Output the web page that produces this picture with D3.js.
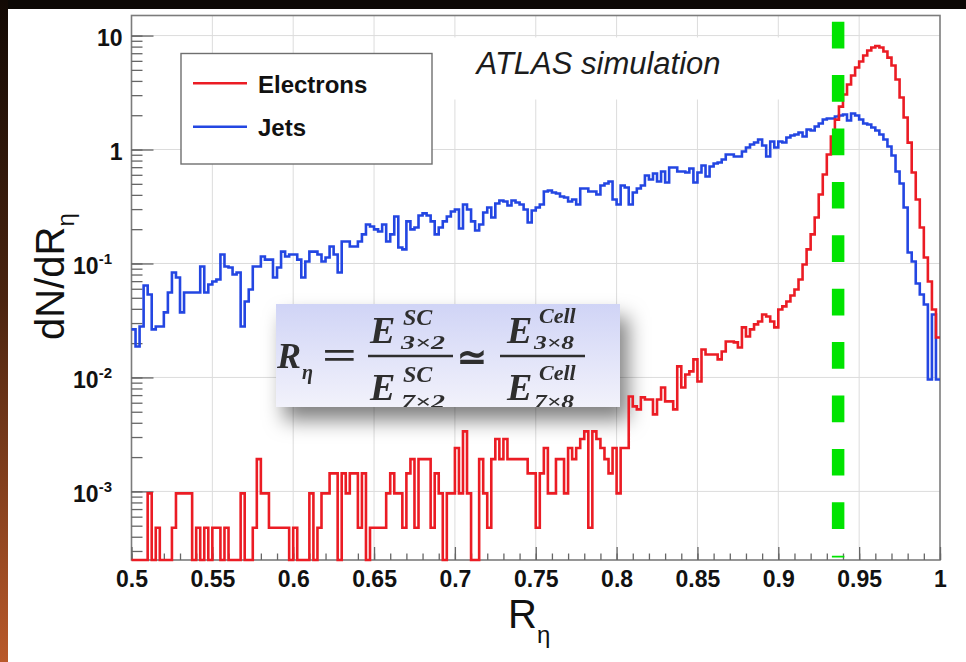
<!DOCTYPE html>
<html>
<head>
<meta charset="utf-8">
<title>R_eta: electrons vs jets</title>
<script src="https://cdn.jsdelivr.net/npm/d3@7/dist/d3.min.js"></script>
<style>
  html, body { margin: 0; padding: 0; background: #0c0805; overflow: hidden; }
  svg { display: block; }
</style>
</head>
<body>
<svg id="chart" width="966" height="662"></svg>
<script>
// ---------- data ----------
// Histogram binning on R_eta
const binStart = 0.5;
const binWidth = 0.0025;

// dN/dR_eta per bin (200 bins from 0.5 to 1.0)
const electrons = [
  0, 0, 0, 0, 0.00096, 0, 0.00048, 0, 0, 0,
  0.00048, 0.00096, 0.00096, 0.00096, 0.00096, 0, 0.00048, 0, 0.00048, 0,
  0.00048, 0.00048, 0, 0.00048, 0, 0, 0, 0.00096, 0, 0,
  0.00048, 0.00192, 0.00096, 0.00096, 0.00048, 0.00048, 0.00048, 0.00048, 0.00048, 0,
  0.00048, 0, 0, 0, 0.00096, 0, 0.00048, 0.00096, 0.00096, 0.00144,
  0.00144, 0, 0.00144, 0.00096, 0.00144, 0.00144, 0.00048, 0.00144, 0, 0.00048,
  0.00048, 0.00048, 0.00048, 0.00096, 0.00144, 0.00096, 0.00096, 0.00048, 0.00144, 0.00192,
  0.00048, 0.00192, 0.00192, 0.00192, 0.00048, 0.00144, 0.00096, 0, 0.00096, 0.00096,
  0.0024, 0.00096, 0.00336, 0.00096, 0, 0, 0.00192, 0.00096, 0.00048, 0.00192,
  0.00288, 0.00192, 0.00288, 0.00192, 0.00192, 0.00192, 0.00192, 0.00192, 0.00144, 0.00144,
  0.00048, 0.00144, 0.0024, 0.00096, 0.00096, 0.00192, 0.00192, 0.00096, 0.0024, 0.00192,
  0.0024, 0.00288, 0.00336, 0.00048, 0.00336, 0.00288, 0.0024, 0.00192, 0.00144, 0.0024,
  0.00096, 0.0024, 0.0024, 0.00681, 0.00557, 0.00524, 0.00668, 0.00641, 0.00641, 0.00474,
  0.00641, 0.00817, 0.00616, 0.00616, 0.00524, 0.0125, 0.00817, 0.0106, 0.0113, 0.0144,
  0.00922, 0.0176, 0.0159, 0.0159, 0.0159, 0.0144, 0.0169, 0.0207, 0.0207, 0.0203,
  0.0183, 0.0275, 0.0229, 0.0264, 0.0292, 0.031, 0.0357, 0.0343, 0.031, 0.0275,
  0.0395, 0.042, 0.0464, 0.0524, 0.0591, 0.0724, 0.098, 0.133, 0.18, 0.253,
  0.403, 0.603, 0.904, 1.30, 1.83, 2.38, 3.04, 3.72, 4.46, 5.24,
  5.92, 6.68, 7.39, 7.85, 8.09, 7.85, 7.24, 6.41, 5.46, 4.11,
  2.86, 1.91, 1.15, 0.629, 0.364, 0.207, 0.113, 0.0695, 0.0395, 0.0224
];

const jets = [
  0.0264, 0.0187, 0.028, 0.0641, 0.0535, 0.0264, 0.028, 0.028, 0.0372, 0.0557,
  0.0834, 0.0754, 0.0372, 0.0557, 0.0557, 0.0557, 0.0557, 0.0941, 0.0557, 0.0654,
  0.0695, 0.0724, 0.120, 0.0941, 0.0922, 0.0801, 0.0834, 0.028, 0.0464, 0.0591,
  0.0941, 0.0941, 0.115, 0.108, 0.108, 0.0754, 0.0922, 0.127, 0.115, 0.120,
  0.120, 0.108, 0.0754, 0.104, 0.127, 0.127, 0.120, 0.104, 0.113, 0.141,
  0.120, 0.0834, 0.156, 0.156, 0.141, 0.141, 0.156, 0.180, 0.220, 0.211,
  0.199, 0.191, 0.220, 0.156, 0.180, 0.258, 0.138, 0.133, 0.234, 0.199,
  0.207, 0.264, 0.275, 0.264, 0.234, 0.180, 0.207, 0.234, 0.258, 0.286,
  0.298, 0.203, 0.329, 0.298, 0.234, 0.195, 0.220, 0.280, 0.310, 0.253,
  0.336, 0.357, 0.350, 0.323, 0.357, 0.343, 0.329, 0.298, 0.229, 0.292,
  0.310, 0.329, 0.428, 0.437, 0.420, 0.411, 0.387, 0.379, 0.350, 0.364,
  0.329, 0.455, 0.455, 0.428, 0.428, 0.403, 0.483, 0.503, 0.524, 0.364,
  0.329, 0.483, 0.464, 0.329, 0.420, 0.455, 0.483, 0.591, 0.546, 0.616,
  0.524, 0.641, 0.514, 0.695, 0.695, 0.641, 0.641, 0.629, 0.681, 0.514,
  0.629, 0.724, 0.580, 0.709, 0.754, 0.769, 0.817, 0.904, 0.904, 0.868,
  0.868, 0.960, 1.041, 1.106, 1.152, 1.224, 1.084, 0.868, 1.175, 1.041,
  1.175, 1.152, 1.274, 1.327, 1.354, 1.410, 1.300, 1.498, 1.468, 1.591,
  1.691, 1.833, 1.870, 1.870, 1.947, 1.987, 2.028, 1.796, 2.069, 1.987,
  1.833, 1.691, 1.657, 1.560, 1.468, 1.354, 1.224, 1.062, 0.886, 0.641,
  0.503, 0.310, 0.125, 0.104, 0.0668, 0.0535, 0.0437, 0.0096, 0.0357, 0.0096
];

const xDomain = [0.5, 1];
const yDomain = [2.5e-4, 15];
const xTickValues = [0.5, 0.55, 0.6, 0.65, 0.7, 0.75, 0.8, 0.85, 0.9, 0.95, 1];
const xTickLabels = ["0.5", "0.55", "0.6", "0.65", "0.7", "0.75", "0.8", "0.85", "0.9", "0.95", "1"];
const yTickValues = [0.001, 0.01, 0.1, 1, 10];
const yTickBase = ["10", "10", "10", "1", "10"];
const yTickExp = ["-3", "-2", "-1", "", ""];
const legendLabels = ["Electrons", "Jets"];
const cutValue = 0.937;

// ---------- layout ----------
const W = 966, H = 662;
const frame = { left: 131.5, right: 940, top: 15.5, bottom: 560 };
const colors = {
  electrons: "#eb1c24",
  jets: "#2346e2",
  cut: "#00e400",
  grid: "#dcdcdc",
  frame: "#7c7c7c",
  tick: "#666"
};
const sans = "'Liberation Sans', Arial, Helvetica, sans-serif";
const serif = "'Liberation Serif', 'Times New Roman', Times, serif";

const svg = d3.select("#chart");
const defs = svg.append("defs");

// page backdrop
const edge = defs.append("linearGradient").attr("id", "edgeGrad")
  .attr("x1", 0).attr("y1", 0).attr("x2", 0).attr("y2", 1);
edge.append("stop").attr("offset", "0%").attr("stop-color", "#120904");
edge.append("stop").attr("offset", "45%").attr("stop-color", "#4a2410");
edge.append("stop").attr("offset", "100%").attr("stop-color", "#b9592a");

svg.append("rect").attr("width", W).attr("height", H).attr("fill", "#0c0805");
svg.append("rect").attr("x", 0).attr("y", 0).attr("width", 8).attr("height", H).attr("fill", "url(#edgeGrad)");
svg.append("rect").attr("x", 8).attr("y", 9).attr("width", W - 8).attr("height", H - 9).attr("fill", "#ffffff");

// scales
const x = d3.scaleLinear().domain(xDomain).range([frame.left, frame.right]);
const y = d3.scaleLog().domain(yDomain).range([frame.bottom, frame.top]);

// grid
const grid = svg.append("g").attr("stroke", colors.grid).attr("stroke-width", 1);
grid.selectAll("line.gx")
  .data(xTickValues.filter(v => v > xDomain[0] && v < xDomain[1]))
  .join("line").attr("class", "gx")
  .attr("x1", d => x(d)).attr("x2", d => x(d))
  .attr("y1", frame.top).attr("y2", frame.bottom);
grid.selectAll("line.gy")
  .data(yTickValues)
  .join("line").attr("class", "gy")
  .attr("x1", frame.left).attr("x2", frame.right)
  .attr("y1", d => y(d)).attr("y2", d => y(d));

// white pad behind the simulation label
svg.append("rect").attr("x", 440).attr("y", 37.5).attr("width", 365).attr("height", 62).attr("fill", "#fff");

// ---------- formula panel ----------
const shadow = defs.append("filter").attr("id", "panelShadow")
  .attr("x", "-20%").attr("y", "-30%").attr("width", "150%").attr("height", "200%");
shadow.append("feDropShadow").attr("dx", 8).attr("dy", 13).attr("stdDeviation", 10)
  .attr("flood-color", "#000").attr("flood-opacity", 0.5);

const panelGrad = defs.append("linearGradient").attr("id", "panelGrad")
  .attr("x1", 0).attr("y1", 0).attr("x2", 0).attr("y2", 1);
panelGrad.append("stop").attr("offset", "0%").attr("stop-color", "#d0d4f6");
panelGrad.append("stop").attr("offset", "100%").attr("stop-color", "#f2f2fb");

const soft = defs.append("filter").attr("id", "softText");
soft.append("feGaussianBlur").attr("stdDeviation", 0.6);

const panel = { x: 276, y: 304, w: 344, h: 103 };
defs.append("clipPath").attr("id", "panelClip").append("rect")
  .attr("x", panel.x).attr("y", panel.y).attr("width", panel.w).attr("height", panel.h);

svg.append("rect")
  .attr("x", panel.x).attr("y", panel.y).attr("width", panel.w).attr("height", panel.h)
  .attr("fill", "url(#panelGrad)").attr("filter", "url(#panelShadow)");

const fg = svg.append("g").attr("clip-path", "url(#panelClip)")
  .append("g").attr("filter", "url(#softText)")
  .attr("fill", "#2e2e2e").attr("font-family", serif).attr("font-weight", "bold");

function ftext(str, px, py, size, opts = {}) {
  const t = fg.append("text").attr("x", px).attr("y", py)
    .attr("font-size", size).attr("font-style", opts.upright ? "normal" : "italic").text(str);
  if (opts.len) t.attr("textLength", opts.len).attr("lengthAdjust", "spacingAndGlyphs");
  return t;
}
// R_eta =
ftext("R", 277, 368, 36);
ftext("η", 302, 379, 20);
ftext("=", 322, 369, 40, { upright: true, len: 35 });
// first ratio (super-cells)
ftext("E", 370, 343, 38);
ftext("SC", 403, 325, 24);
ftext("3×2", 401, 349, 18, { len: 44 });
fg.append("line").attr("x1", 368).attr("x2", 453).attr("y1", 356).attr("y2", 356)
  .attr("stroke", "#2e2e2e").attr("stroke-width", 2.4);
ftext("E", 370, 400, 38);
ftext("SC", 403, 382, 24);
ftext("7×2", 401, 408, 18, { len: 44 });
// approximately equal
ftext("≃", 457, 370, 38, { upright: true, len: 30 });
// second ratio (cells)
ftext("E", 507, 343, 38);
ftext("Cell", 539, 323, 22);
ftext("3×8", 534, 349, 18, { len: 40 });
fg.append("line").attr("x1", 500).attr("x2", 585).attr("y1", 356).attr("y2", 356)
  .attr("stroke", "#2e2e2e").attr("stroke-width", 2.4);
ftext("E", 507, 400, 38);
ftext("Cell", 539, 380, 22);
ftext("7×8", 534, 408, 18, { len: 40 });

// ---------- legend ----------
const legend = svg.append("g");
legend.append("rect").attr("x", 181).attr("y", 53.5).attr("width", 251).attr("height", 110.5)
  .attr("fill", "#fff").attr("stroke", "#6f6f6f").attr("stroke-width", 1.4);
const legendColors = [colors.electrons, colors.jets];
const legendRows = legend.selectAll("g.row").data(legendLabels).join("g").attr("class", "row")
  .attr("transform", (d, i) => `translate(0, ${83.3 + i * 43.4})`);
legendRows.append("line").attr("x1", 193).attr("x2", 247).attr("y1", 0).attr("y2", 0)
  .attr("stroke", (d, i) => legendColors[i]).attr("stroke-width", 2.6);
legendRows.append("text").attr("x", 258).attr("y", 9.3)
  .attr("font-family", sans).attr("font-weight", "bold").attr("font-size", 24)
  .attr("fill", "#111").text(d => d);

// simulation label
svg.append("text").attr("x", 476.5).attr("y", 74)
  .attr("font-family", sans).attr("font-style", "italic").attr("font-size", 31)
  .attr("fill", "#1c1c1c").text("ATLAS simulation");

// ---------- frame and axes ----------
svg.append("rect")
  .attr("x", frame.left).attr("y", frame.top)
  .attr("width", frame.right - frame.left).attr("height", frame.bottom - frame.top)
  .attr("fill", "none").attr("stroke", colors.frame).attr("stroke-width", 1.6);

// bottom axis: minor ticks every 0.01, major ticks with labels
const xMinor = svg.append("g").attr("transform", `translate(0, ${frame.bottom})`)
  .call(d3.axisBottom(x).tickValues(x.ticks(50)).tickFormat("").tickSizeInner(-6.5).tickSizeOuter(0));
const xMajor = svg.append("g").attr("transform", `translate(0, ${frame.bottom})`)
  .call(d3.axisBottom(x).tickValues(xTickValues).tickFormat((d, i) => xTickLabels[i])
    .tickSizeInner(-13).tickSizeOuter(0).tickPadding(10.5));
[xMinor, xMajor].forEach(g => {
  g.select(".domain").remove();
  g.selectAll(".tick line").attr("stroke", colors.tick).attr("stroke-width", 1.3);
});
xMajor.selectAll(".tick text")
  .attr("font-family", sans).attr("font-weight", "bold").attr("font-size", 23).attr("fill", "#111");

// left axis: log minor ticks and decade ticks
const yMinor = svg.append("g").attr("transform", `translate(${frame.left}, 0)`)
  .call(d3.axisLeft(y).tickValues(y.ticks()).tickFormat("").tickSizeInner(-11).tickSizeOuter(0));
const yMajor = svg.append("g").attr("transform", `translate(${frame.left}, 0)`)
  .call(d3.axisLeft(y).tickValues(yTickValues).tickFormat("").tickSizeInner(-22).tickSizeOuter(0));
[yMinor, yMajor].forEach(g => {
  g.select(".domain").remove();
  g.selectAll(".tick line").attr("stroke", colors.tick).attr("stroke-width", 1.3);
});
const yLabels = svg.append("g").attr("font-family", sans).attr("font-weight", "bold").attr("fill", "#111");
yTickValues.forEach((v, i) => {
  const hasExp = yTickExp[i] !== "";
  const t = yLabels.append("text")
    .attr("x", hasExp ? 112 : 122.5).attr("y", y(v) + 10.5)
    .attr("text-anchor", "end").attr("font-size", 23);
  t.append("tspan").text(yTickBase[i]);
  if (hasExp) t.append("tspan").attr("font-size", 15).attr("dy", -10).text(yTickExp[i]);
});

// axis titles
const xTitle = svg.append("text").attr("x", 508).attr("y", 628)
  .attr("font-family", sans).attr("font-size", 40).attr("fill", "#111");
xTitle.append("tspan").text("R");
xTitle.append("tspan").attr("font-size", 24).attr("dy", 15).text("η");

const yTitle = svg.append("text")
  .attr("transform", "translate(64, 340) rotate(-90)")
  .attr("font-family", sans).attr("font-size", 40).attr("fill", "#111");
yTitle.append("tspan").text("dN/dR");
yTitle.append("tspan").attr("font-size", 24).attr("dy", 10).text("η");

// ---------- histograms (drawn over the frame so empty bins show on the axis) ----------
function stepPoints(values) {
  const pts = values.map((v, i) => [binStart + i * binWidth, v]);
  pts.push([binStart + values.length * binWidth, values[values.length - 1]]);
  return pts;
}
const histLine = d3.line()
  .x(d => x(d[0]))
  .y(d => y(Math.max(d[1], yDomain[0])))
  .curve(d3.curveStepAfter);

svg.append("path").datum(stepPoints(jets))
  .attr("d", histLine).attr("fill", "none")
  .attr("stroke", colors.jets).attr("stroke-width", 2.6).attr("stroke-linejoin", "miter");
svg.append("path").datum(stepPoints(electrons))
  .attr("d", histLine).attr("fill", "none")
  .attr("stroke", colors.electrons).attr("stroke-width", 2.6).attr("stroke-linejoin", "miter");

// ---------- selection cut ----------
svg.append("line")
  .attr("x1", x(cutValue)).attr("x2", x(cutValue))
  .attr("y1", y(yDomain[1]) + 6.2).attr("y2", y(yDomain[0]) - 2.5)
  .attr("stroke", colors.cut).attr("stroke-width", 12.5)
  .attr("stroke-dasharray", "26.7 26.7");
</script>
</body>
</html>
